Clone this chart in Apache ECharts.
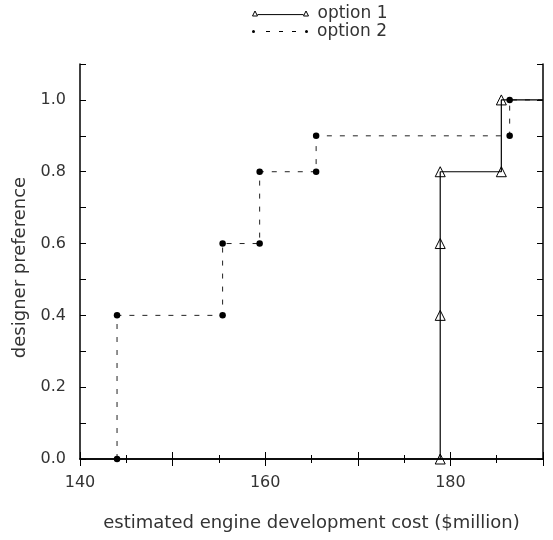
<!DOCTYPE html>
<html>
<head>
<meta charset="utf-8">
<script src="https://cdn.jsdelivr.net/npm/echarts@6/dist/echarts.min.js"></script>
<style>
  html, body { margin: 0; padding: 0; background: #fff; }
  #chart { width: 553px; height: 540px; }
</style>
</head>
<body>
<div id="chart"></div>
<script>
// ---- data ----
const seriesNames = ['option 1', 'option 2'];
const opt1X = [178.9, 178.9, 178.9, 178.9, 185.5, 185.5];
const opt1Y = [0.0, 0.4, 0.6, 0.8, 0.8, 1.0];
const opt2X = [144.0, 144.0, 155.4, 155.4, 159.4, 159.4, 165.5, 165.5, 186.4, 186.4];
const opt2Y = [0.0, 0.4, 0.4, 0.6, 0.6, 0.8, 0.8, 0.9, 0.9, 1.0];
const xTickLabels = [140, 160, 180];
const yTickLabels = ['0.0', '0.2', '0.4', '0.6', '0.8', '1.0'];
const xName = 'estimated engine development cost ($million)';
const yName = 'designer preference';

const X_MIN = 140, X_MAX = 190, Y_MIN = 0, Y_MAX = 1.1;

function pairs(xs, ys) {
  const out = xs.map((x, i) => [x, ys[i]]);
  // the last step continues flat to the right edge of the plot
  out.push({ value: [X_MAX, ys[ys.length - 1]], symbol: 'none' });
  return out;
}

const FONT = "'DejaVu Sans', sans-serif";
const TXT = '#333';

const chart = echarts.init(document.getElementById('chart'), null, { renderer: 'canvas' });

const frameLine = { show: true, lineStyle: { color: '#000', width: 1.5 } };

const option = {
  animation: false,
  backgroundColor: '#fff',
  grid: { left: 80, right: 10, top: 64, bottom: 81, containLabel: false },
  legend: [
    {
      data: [{
        name: seriesNames[0],
        icon: 'path://M0,6 L2.5,1 L5,6 Z M5,4.6 L51,4.6 M51,6 L53.5,1 L56,6 Z',
        itemStyle: { color: 'transparent', borderColor: '#000', borderWidth: 1 }
      }],
      left: 252, top: 5, padding: 0,
      itemWidth: 56, itemHeight: 5,
      selectedMode: false,
      textStyle: { color: TXT, fontSize: 17, fontFamily: FONT, padding: [0, 0, 0, 4] }
    },
    {
      data: [{
        name: seriesNames[1],
        icon: 'path://M0,1.5 a1.5,1.5 0 1,0 3,0 a1.5,1.5 0 1,0 -3,0 Z M14,1 h4 v1 h-4 Z M27,1 h4 v1 h-4 Z M40,1 h4 v1 h-4 Z M53,1.5 a1.5,1.5 0 1,0 3,0 a1.5,1.5 0 1,0 -3,0 Z',
        itemStyle: { color: '#000', borderWidth: 0 }
      }],
      left: 252, top: 23, padding: 0,
      itemWidth: 56, itemHeight: 3,
      selectedMode: false,
      textStyle: { color: TXT, fontSize: 17, fontFamily: FONT, padding: [0, 0, 0, 4] }
    }
  ],
  xAxis: [
    {
      type: 'value', position: 'bottom',
      min: X_MIN, max: X_MAX, interval: 10,
      name: xName, nameLocation: 'middle', nameGap: 55,
      nameTextStyle: { color: TXT, fontSize: 18, fontFamily: FONT },
      axisLine: frameLine,
      axisTick: { show: true, inside: true, length: 7, lineStyle: { color: '#000', width: 1 } },
      minorTick: { show: true, splitNumber: 2, length: 4, lineStyle: { color: '#000', width: 1 } },
      splitLine: { show: false },
      minorSplitLine: { show: false },
      axisLabel: {
        color: TXT, fontSize: 16, fontFamily: FONT, margin: 16,
        formatter: v => (xTickLabels.indexOf(Math.round(v)) >= 0 ? String(Math.round(v)) : '')
      }
    },
    {
      type: 'value', position: 'top',
      min: X_MIN, max: X_MAX, interval: 10,
      axisLine: frameLine,
      axisTick: { show: true, inside: true, length: 7, lineStyle: { color: '#000', width: 1 } },
      minorTick: { show: true, splitNumber: 2, length: 4, lineStyle: { color: '#000', width: 1 } },
      splitLine: { show: false },
      axisLabel: { show: false }
    }
  ],
  yAxis: [
    {
      type: 'value', position: 'left',
      min: Y_MIN, max: Y_MAX, interval: 0.1,
      name: yName, nameLocation: 'middle', nameGap: 50, nameRotate: 90,
      nameTextStyle: { color: TXT, fontSize: 18, fontFamily: FONT, padding: [0, 12, 0, 0] },
      axisLine: frameLine,
      axisTick: { show: true, inside: true, length: 6, lineStyle: { color: '#000', width: 1 } },
      splitLine: { show: false },
      axisLabel: {
        color: TXT, fontSize: 16, fontFamily: FONT, margin: 14,
        formatter: v => {
          const s = (Math.round(v * 10) / 10).toFixed(1);
          return yTickLabels.indexOf(s) >= 0 ? s : '';
        }
      }
    },
    {
      type: 'value', position: 'right',
      min: Y_MIN, max: Y_MAX, interval: 0.1,
      axisLine: frameLine,
      axisTick: { show: true, inside: true, length: 6, lineStyle: { color: '#000', width: 1 } },
      splitLine: { show: false },
      axisLabel: { show: false }
    }
  ],
  series: [
    {
      name: seriesNames[1],
      type: 'line',
      xAxisIndex: 0, yAxisIndex: 0,
      data: pairs(opt2X, opt2Y),
      symbol: 'circle', symbolSize: 6.5,
      itemStyle: { color: '#000' },
      lineStyle: { color: '#222', width: 1, type: [5, 8] },
      z: 2
    },
    {
      name: seriesNames[0],
      type: 'line',
      xAxisIndex: 0, yAxisIndex: 0,
      data: pairs(opt1X, opt1Y),
      symbol: 'triangle', symbolSize: 10,
      itemStyle: { color: 'transparent', borderColor: '#000', borderWidth: 1 },
      lineStyle: { color: '#000', width: 1.2, type: 'solid' },
      z: 3
    }
  ]
};

chart.setOption(option);
</script>
</body>
</html>
